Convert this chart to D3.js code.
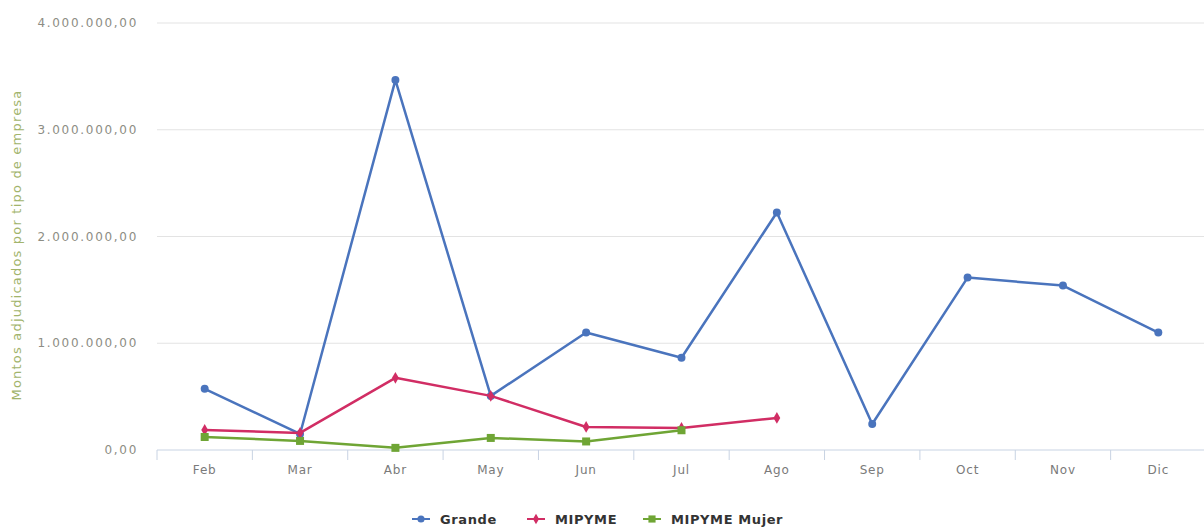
<!DOCTYPE html>
<html>
<head>
<meta charset="utf-8">
<script src="https://cdnjs.cloudflare.com/ajax/libs/d3/7.8.5/d3.min.js"></script>
<style>
  body { margin: 0; background: #fff; }
  svg { display: block; font-family: "DejaVu Sans", "Open Sans", sans-serif; }
</style>
</head>
<body>
<div id="chart"></div>
<script>
// data
const months = ["Feb", "Mar", "Abr", "May", "Jun", "Jul", "Ago", "Sep", "Oct", "Nov", "Dic"];
const grande = [573000, 150000, 3465000, 507000, 1100000, 864000, 2225000, 244000, 1615000, 1540000, 1100000];
const mipyme = [188000, 160000, 676000, 507000, 216000, 207000, 300000];
const mipymeMujer = [122000, 85000, 20000, 113000, 80000, 185000];
const yTicks = [0, 1000000, 2000000, 3000000, 4000000];

const W = 1204, H = 529;
const margin = {top: 23, right: -2, bottom: 80, left: 157};

const svg = d3.select("#chart").append("svg")
    .attr("width", W)
    .attr("height", H);

const x = d3.scaleBand()
    .domain(months)
    .range([margin.left, W - margin.right]);

const y = d3.scaleLinear()
    .domain([0, 4000000])
    .range([H - margin.bottom + 1, margin.top]);

// european style number format 1.000.000,00
const fmt = d3.formatLocale({decimal: ",", thousands: ".", grouping: [3], currency: ["", ""]}).format(",.2f");

// grid
svg.append("g").selectAll("line")
    .data(yTicks.filter(d => d > 0))
    .join("line")
    .attr("x1", margin.left)
    .attr("x2", W)
    .attr("y1", d => y(d))
    .attr("y2", d => y(d))
    .attr("stroke", "#e3e3e3")
    .attr("stroke-width", 1);

// y labels
svg.append("g").selectAll("text")
    .data(yTicks)
    .join("text")
    .attr("x", 138)
    .attr("y", d => y(d) + 4)
    .attr("text-anchor", "end")
    .attr("fill", "#8d8d84")
    .style("font-size", "12px")
    .style("letter-spacing", "1.7px")
    .text(d => fmt(d));

// y title
svg.append("text")
    .attr("transform", `translate(21, 245) rotate(-90)`)
    .attr("text-anchor", "middle")
    .attr("fill", "#a2b46c")
    .style("font-size", "13px")
    .style("letter-spacing", "1.2px")
    .text("Montos adjudicados por tipo de empresa");

// x axis
const baseY = y(0);
svg.append("line")
    .attr("x1", margin.left)
    .attr("x2", W)
    .attr("y1", baseY)
    .attr("y2", baseY)
    .attr("stroke", "#c8d3e3");

const bounds = months.map(m => x(m)).concat([x(months[months.length - 1]) + x.bandwidth()]);
svg.append("g").selectAll("line")
    .data(bounds)
    .join("line")
    .attr("x1", d => d)
    .attr("x2", d => d)
    .attr("y1", baseY)
    .attr("y2", baseY + 10)
    .attr("stroke", "#c8d3e3");

svg.append("g").selectAll("text")
    .data(months)
    .join("text")
    .attr("x", d => x(d) + x.bandwidth() / 2)
    .attr("y", baseY + 24)
    .attr("text-anchor", "middle")
    .attr("fill", "#7a7a7a")
    .style("font-size", "12px")
    .style("letter-spacing", "0.8px")
    .text(d => d);

const series = [
    {name: "Grande", values: grande, color: "#4a74bd", shape: d3.symbolCircle, size: 50},
    {name: "MIPYME", values: mipyme, color: "#d12d64", shape: d3.symbolDiamond, size: 40},
    {name: "MIPYME Mujer", values: mipymeMujer, color: "#6fa535", shape: d3.symbolSquare, size: 64}
];

const line = d3.line()
    .x((d, i) => x(months[i]) + x.bandwidth() / 2)
    .y(d => y(d));

series.forEach(s => {
    const g = svg.append("g");
    g.append("path")
        .datum(s.values)
        .attr("d", line)
        .attr("fill", "none")
        .attr("stroke", s.color)
        .attr("stroke-width", 2.5)
        .attr("stroke-linejoin", "round");
    g.selectAll("path.pt")
        .data(s.values)
        .join("path")
        .attr("class", "pt")
        .attr("transform", (d, i) => `translate(${x(months[i]) + x.bandwidth() / 2}, ${y(d)})`)
        .attr("d", d3.symbol().type(s.shape).size(s.size))
        .attr("fill", s.color);
});

// legend
const legendX = [412, 527, 643];
const legend = svg.append("g");
series.forEach((s, i) => {
    const lg = legend.append("g").attr("transform", `translate(${legendX[i]}, 519)`);
    lg.append("line")
        .attr("x1", 0).attr("x2", 18)
        .attr("stroke", s.color)
        .attr("stroke-width", 2);
    lg.append("path")
        .attr("transform", "translate(9,0)")
        .attr("d", d3.symbol().type(s.shape).size(s.size * 0.8))
        .attr("fill", s.color);
    lg.append("text")
        .attr("x", 28)
        .attr("y", 5)
        .attr("fill", "#333")
        .style("font-size", "13px")
        .style("font-weight", "bold")
        .style("letter-spacing", "0.6px")
        .text(s.name);
});
</script>
</body>
</html>
